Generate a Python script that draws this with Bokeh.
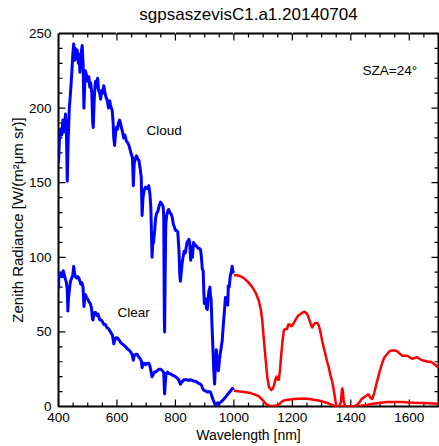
import math
from bokeh.plotting import figure
from bokeh.models import (ColumnDataSource, Range1d, LinearAxis, SingleIntervalTicker, Label,
                          CustomJSTickFormatter)
from bokeh.embed import file_html
from bokeh.resources import INLINE

# ---------------- data ----------------
title_text = "sgpsaszevisC1.a1.20140704"
x_label = "Wavelength [nm]"
y_label = "Zenith Radiance [W/(m\u00b2\u03bcm sr)]"

cloud_vis_wl = [400, 403, 407, 411, 415, 419, 424, 427, 430, 433, 437, 441, 445, 449, 452, 455, 458,
                462, 464, 468, 471, 473, 477, 481, 484, 487, 490, 492, 496, 500, 504, 507, 510, 514,
                517, 519, 522, 525, 527, 531, 534, 537, 541, 544, 548, 552, 555, 559, 563, 567, 571,
                575, 578, 581, 584, 587, 589, 592, 595, 598, 602, 605, 609, 612, 615, 618, 623, 627,
                632, 636, 641, 645, 649, 653, 656, 659, 663, 667, 671, 675, 679, 683, 686, 689, 693,
                698, 703, 709, 713, 716, 720, 722, 725, 729, 732, 735, 740, 745, 749, 753, 758, 760,
                762, 763, 765, 767, 770, 774, 777, 781, 785, 789, 793, 797, 800, 804, 808, 812, 815,
                817, 820, 823, 826, 830, 834, 837, 840, 843, 846, 849, 852, 855, 858, 862, 866, 870,
                874, 878, 882, 886, 889, 892, 895, 897, 899, 903, 906, 909, 912, 915, 918, 920, 922,
                925, 928, 931, 934, 937, 940, 943, 947, 950, 953, 957, 960, 964, 968, 971, 975, 979,
                981, 984, 988, 991, 994, 997, 1000]
cloud_vis_val = [163, 178, 186, 182, 192, 184, 196, 185, 151, 178, 200, 210, 222, 236, 243, 232, 240,
                 233, 239, 230, 236, 224, 236, 242, 230, 200, 218, 225, 222, 218, 221, 214, 217, 210,
                 190, 187, 205, 215, 218, 214, 220, 212, 210, 206, 212, 210, 215, 210, 207, 205, 200,
                 205, 202, 200, 198, 190, 180, 175, 183, 187, 186, 190, 192, 190, 187, 185, 180, 182,
                 178, 177, 175, 172, 169, 167, 148, 163, 166, 168, 166, 165, 160, 154, 128, 140, 145,
                 147, 146, 148, 142, 133, 100, 108, 110, 118, 126, 129, 131, 135, 137, 136, 134, 128,
                 60, 50, 90, 122, 128, 131, 132, 130, 129, 127, 122, 120, 118, 118, 117, 105, 88,
                 84, 90, 96, 100, 104, 103, 107, 110, 111, 112, 110, 98, 107, 100, 110, 108, 108,
                 107, 106, 106, 105, 100, 92, 91, 78, 69, 72, 66, 65, 73, 78, 80, 74, 72,
                 55, 40, 25, 15, 28, 38, 30, 24, 30, 35, 40, 44, 55, 65, 73, 70, 68,
                 81, 80, 88, 90, 94, 90, 91]

clear_vis_wl = [400, 401, 402, 405, 409, 413, 416, 420, 424, 427, 430, 432, 434, 437, 441, 445, 449,
                452, 455, 458, 462, 466, 470, 473, 476, 480, 484, 487, 490, 492, 496, 500, 505, 509,
                513, 516, 518, 521, 524, 527, 531, 535, 538, 542, 546, 550, 555, 560, 565, 572, 578,
                584, 587, 589, 592, 596, 601, 606, 612, 618, 624, 630, 635, 640, 645, 652, 656, 659,
                664, 669, 675, 680, 684, 686, 689, 694, 698, 704, 709, 713, 716, 720, 723, 727, 732,
                738, 744, 749, 755, 760, 762, 763, 765, 768, 773, 778, 783, 790, 796, 800, 806, 811,
                815, 817, 820, 825, 830, 834, 840, 845, 851, 857, 863, 869, 875, 880, 886, 890, 893,
                897, 903, 909, 915, 920, 923, 926, 930, 934, 938, 941, 944, 947, 950, 955, 961, 966,
                972, 978, 984, 989, 994, 997, 1000]
clear_vis_val = [79, 86, 88, 87, 89, 87, 91, 88, 85, 83, 78, 64, 72, 78, 84, 86, 88,
                 94, 89, 87, 86, 87, 86, 84, 82, 83, 80, 67, 73, 75, 73, 72, 70, 69,
                 66, 59, 58, 62, 63, 63, 61, 62, 60, 58, 58, 57, 55, 55, 53, 52, 50,
                 48, 45, 42, 44, 46, 46, 45, 43, 42, 41, 40, 38.7, 38, 37, 35, 31, 34,
                 35, 35, 33, 32, 30, 26, 29, 29, 28, 29, 29, 27, 24, 20, 21, 23, 23,
                 24, 25, 25, 24, 23, 12, 8.5, 15, 22, 23, 22, 22, 21, 20.5, 20, 19, 18,
                 16, 15, 16, 17, 18, 18, 18, 17.5, 18, 17.5, 17, 17, 16, 15.5, 15, 14, 12,
                 11, 10.5, 9.6, 10, 9.6, 8, 6, 4, 2, 1, 1.5, 2.5, 1.5, 2, 3, 4, 5,
                 6.5, 8, 9.5, 10.5, 12, 12, 12.5]

cloud_nir_wl = [1000, 1010, 1020, 1034, 1048, 1063, 1075, 1085, 1092, 1097, 1102, 1108, 1114, 1120,
                1128, 1133, 1137, 1142, 1146, 1150, 1154, 1158, 1162, 1167, 1171, 1176, 1182, 1186,
                1191, 1195, 1199, 1205, 1211, 1220, 1228, 1235, 1242, 1248, 1253, 1260, 1265, 1268,
                1273, 1279, 1285, 1291, 1296, 1302, 1308, 1313, 1319, 1325, 1330, 1336, 1340, 1344,
                1348, 1351, 1360, 1366, 1369, 1371, 1373, 1376, 1382, 1400, 1410, 1420, 1430, 1437,
                1444, 1452, 1458, 1461, 1466, 1473, 1480, 1490, 1498, 1507, 1515, 1524, 1532, 1541,
                1550, 1559, 1567, 1576, 1584, 1593, 1601, 1610, 1618, 1627, 1635, 1644, 1655, 1665,
                1673, 1682, 1691, 1700]
cloud_nir_val = [88, 88, 87.5, 86, 83.5, 80, 76, 71, 65, 58, 46, 33, 20, 13,
                 11, 12, 14, 18, 20, 18, 18, 25, 35, 45, 51, 52, 52, 55,
                 55, 54, 54, 56, 58, 61, 62, 63, 63.5, 62.5, 61, 57, 54, 53,
                 55, 56, 56, 54, 50, 44, 39, 35, 30, 26, 21, 17, 13, 8,
                 3, 0, 0, 3, 10, 12, 10, 3, 0, 0, 0, 1, 3, 5,
                 6, 7, 8, 8, 6, 5, 9, 17, 23, 29, 33, 35, 37, 37.5,
                 37.5, 37, 35.5, 34, 34, 34, 33, 32, 32.5, 33, 32, 31, 30.5, 30,
                 30, 29, 27.5, 26]

clear_nir_wl = [1000, 1020, 1040, 1057, 1072, 1085, 1095, 1102, 1108, 1115, 1125, 1140, 1154, 1162,
                1171, 1185, 1205, 1220, 1239, 1255, 1273, 1290, 1308, 1325, 1342, 1355, 1380, 1400,
                1420, 1433, 1445, 1456, 1475, 1502, 1525, 1548, 1575, 1600, 1616, 1650, 1680, 1700]
clear_nir_val = [10.5, 10, 9.5, 9, 8, 7, 5, 3.5, 2, 1, 0.3, 0.5, 1, 3,
                 4, 4.5, 5, 5.2, 5.3, 5, 4.5, 4, 3, 2, 0.5, 0, 0, 0,
                 0, 0.3, 0.8, 1, 1.8, 2.5, 3, 3, 3, 2.7, 2.5, 2.3, 2, 1.8]

annotations = [("Cloud", 701, 185), ("Clear", 602, 63), ("SZA=24\u00b0", 1440, 225)]

# axis ranges and tick spacing
X0, X1 = 400, 1700
Y0, Y1 = 0, 250
X_MAJOR, X_MINOR = 200, 50
Y_MAJOR, Y_MINOR = 50, 10

# ---------------- figure ----------------
FONT = "Liberation Sans"

p = figure(width=439, height=446, output_backend="svg", toolbar_location=None,
           x_range=Range1d(X0, X1), y_range=Range1d(Y0, Y1),
           x_axis_type=None, y_axis_type=None,
           min_border_left=58, min_border_right=1, min_border_top=33, min_border_bottom=40)
p.background_fill_color = "white"
p.border_fill_color = "white"
p.outline_line_color = "black"
p.outline_line_width = 2
p.xgrid.visible = False
p.ygrid.visible = False

p.title.text = title_text
p.title.align = "center"
p.title.text_font = FONT
p.title.text_font_size = "17px"
p.title.text_font_style = "normal"
p.title.text_color = "black"
p.title.standoff = 2


def style_axis(ax):
    ax.axis_line_color = None
    ax.major_tick_in = 0
    ax.major_tick_out = 0
    ax.minor_tick_in = 0
    ax.minor_tick_out = 0
    ax.major_tick_line_color = None
    ax.minor_tick_line_color = None
    ax.major_label_text_font = FONT
    ax.major_label_text_font_size = "13.5px"
    ax.major_label_text_color = "black"
    ax.axis_label_text_font = FONT
    ax.axis_label_text_font_style = "normal"
    ax.axis_label_text_color = "black"


xb = LinearAxis(ticker=SingleIntervalTicker(interval=X_MAJOR), axis_label=x_label)
style_axis(xb)
xb.axis_label_text_font_size = "14px"
xb.major_label_standoff = 6
xb.axis_label_standoff = 2
p.add_layout(xb, "below")

yl = LinearAxis(ticker=SingleIntervalTicker(interval=Y_MAJOR), axis_label=y_label)
style_axis(yl)
yl.axis_label_text_font_size = "15px"
yl.major_label_standoff = 7
yl.axis_label_standoff = 0
p.add_layout(yl, "left")

# an unlabelled spacer axis between the frame and the title, lifting the title a few pixels
xa = LinearAxis(ticker=SingleIntervalTicker(interval=X_MAJOR))
xa.axis_line_color = None
xa.major_tick_in = 0
xa.major_tick_out = 9
xa.minor_tick_in = 0
xa.minor_tick_out = 0
xa.major_tick_line_color = "white"
xa.minor_tick_line_color = None
xa.formatter = CustomJSTickFormatter(code="return ''")
xa.major_label_standoff = 0
xa.major_label_text_font_size = "1px"
p.add_layout(xa, "above")

# inward ticks on all four sides (dash markers centred on the frame edge; the frame clips the outer half)
x_major = list(range(X0, X1 + 1, X_MAJOR))
x_minor = [v for v in range(X0, X1 + 1, X_MINOR) if (v - X0) % X_MAJOR != 0]
y_major = list(range(Y0, Y1 + 1, Y_MAJOR))
y_minor = [v for v in range(Y0, Y1 + 1, Y_MINOR) if (v - Y0) % Y_MAJOR != 0]

for xs, size in [(x_major, 14), (x_minor, 8)]:
    for edge in (Y0, Y1):
        p.scatter(x=xs, y=[edge] * len(xs), marker="dash", size=size, angle=math.pi / 2,
                  line_color="black", line_width=1.2)
for ys, size in [(y_major, 14), (y_minor, 8)]:
    for edge in (X0, X1):
        p.scatter(x=[edge] * len(ys), y=ys, marker="dash", size=size, angle=0,
                  line_color="black", line_width=1.2)

BLUE = "#0000ff"
RED = "#ff0000"

for wl, val, col, lw in [(cloud_vis_wl, cloud_vis_val, BLUE, 3),
                         (clear_vis_wl, clear_vis_val, BLUE, 3),
                         (cloud_nir_wl, cloud_nir_val, RED, 2.5),
                         (clear_nir_wl, clear_nir_val, RED, 2.5)]:
    src = ColumnDataSource(dict(wl=wl, val=val))
    p.line(x="wl", y="val", source=src, line_color=col, line_width=lw, line_join="round")

for txt, xv, yv in annotations:
    p.add_layout(Label(x=xv, y=yv, text=txt, text_font=FONT, text_font_size="13.5px",
                       text_color="black", text_align="left", text_baseline="middle"))

open("out.html", "w").write(file_html(p, INLINE))
